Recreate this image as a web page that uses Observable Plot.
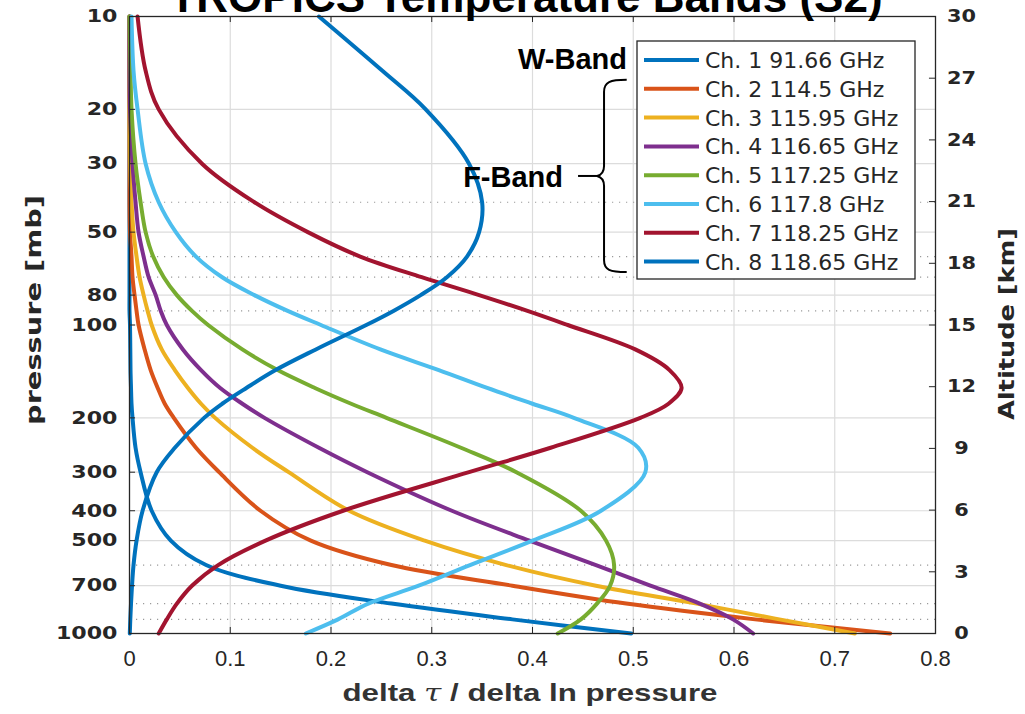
<!DOCTYPE html>
<html><head><meta charset="utf-8">
<script src="https://cdn.jsdelivr.net/npm/d3@7"></script>
<script src="https://cdn.jsdelivr.net/npm/@observablehq/plot@0.6"></script>
<style>html,body{margin:0;padding:0;background:#fff;overflow:hidden}#chart{position:relative;width:1025px;height:714px}</style>
</head><body><div id="chart"></div>
<script>
// pressure levels (mb) shared by all channels
const pressures = [10,15,20,30,40,50,60,70,80,90,100,120,140,160,180,200,250,300,400,500,600,700,800,900,1000];
const ch1 = [0,0,0,0,0,0,0,0,0,0,0.0005,0.0008,0.001,0.0015,0.002,0.003,0.006,0.011,0.022,0.041,0.076,0.15,0.26,0.38,0.498];
const ch2 = [0,0,0,0,0,0.0005,0.002,0.003,0.005,0.007,0.009,0.015,0.021,0.028,0.035,0.044,0.066,0.089,0.13,0.18,0.26,0.38,0.493,0.621,0.755];
const ch3 = [0,0,0,0.0005,0.002,0.004,0.007,0.01,0.014,0.018,0.022,0.032,0.045,0.058,0.071,0.085,0.122,0.158,0.218,0.293,0.374,0.463,0.563,0.645,0.72];
const ch4 = [0,0,0.0005,0.003,0.006,0.009,0.014,0.019,0.026,0.031,0.037,0.053,0.071,0.09,0.112,0.134,0.188,0.236,0.32,0.397,0.463,0.517,0.566,0.599,0.619];
const ch5 = [0,0.001,0.002,0.006,0.011,0.016,0.0235,0.034,0.047,0.062,0.078,0.112,0.147,0.184,0.22,0.255,0.329,0.384,0.448,0.473,0.481,0.477,0.464,0.448,0.425];
const ch6 = [0.002,0.004,0.008,0.016,0.029,0.046,0.066,0.092,0.124,0.157,0.19,0.249,0.307,0.355,0.4,0.441,0.505,0.512,0.468,0.4,0.338,0.287,0.237,0.207,0.175];
const ch7 = [0.008,0.016,0.029,0.072,0.124,0.177,0.229,0.29,0.347,0.395,0.435,0.502,0.536,0.548,0.535,0.507,0.418,0.337,0.212,0.135,0.088,0.062,0.047,0.037,0.029];
const ch8 = [0.188,0.251,0.294,0.337,0.35,0.347,0.335,0.315,0.289,0.262,0.235,0.185,0.145,0.116,0.092,0.074,0.045,0.027,0.013,0.007,0.004,0.0025,0.0015,0.0008,0.0003];

const channelNames = ["Ch. 1 91.66 GHz","Ch. 2 114.5 GHz","Ch. 3 115.95 GHz","Ch. 4 116.65 GHz","Ch. 5 117.25 GHz","Ch. 6 117.8 GHz","Ch. 7 118.25 GHz","Ch. 8 118.65 GHz"];
const channelColors = ["#0072BD","#D95319","#EDB120","#7E2F8E","#77AC30","#4DBEEE","#A2142F","#0072BD"];
const xTicks = [0,0.1,0.2,0.3,0.4,0.5,0.6,0.7,0.8];
const pressureTicks = [10,20,30,50,80,100,200,300,400,500,700,1000];
const pressureMinor = [40,60,70,90,600,800,900];
const altitudeTicks = [0,3,6,9,12,15,18,21,24,27,30];
const titleText = "TROPICS Temperature Bands (S2)";
const bandLabels = ["W-Band","F-Band"];

const series = [ch1,ch2,ch3,ch4,ch5,ch6,ch7,ch8];
const rows = series.flatMap((vals,i)=>vals.map((v,j)=>({ch:channelNames[i], p:pressures[j], v})));
const altToP = a => Math.pow(10, 3 - a/15);
const altP = altitudeTicks.map(altToP);
const ink = "#262626";

const plot = Plot.plot({
  width:1025, height:714, marginLeft:129, marginRight:90, marginTop:16, marginBottom:81,
  style:{background:"#fff", fontFamily:"DejaVu Sans", overflow:"visible"},
  x:{domain:[0,0.8]},
  y:{type:"log", domain:[10,1000], reverse:true},
  color:{domain:channelNames, range:channelColors},
  marks:[
    Plot.ruleX(xTicks.slice(1,-1), {stroke:"#dcdcdc", strokeWidth:1.2}),
    Plot.ruleY(pressureTicks.slice(1,-1), {stroke:"#dcdcdc", strokeWidth:1.2}),
    Plot.ruleY(pressureMinor, {stroke:"#9a9a9a", strokeWidth:1.2, strokeDasharray:"1.2,5.8"}),
    Plot.line(rows, {x:"v", y:"p", z:"ch", stroke:"ch", strokeWidth:4, curve:"catmull-rom"}),
    Plot.ruleX(xTicks, {y1:1000, y2:956, stroke:ink}),
    Plot.ruleX(xTicks, {y1:10, y2:10.46, stroke:ink}),
    Plot.ruleY(pressureTicks, {x1:0, x2:0.006, stroke:ink}),
    Plot.ruleY(altP, {x1:0.794, x2:0.8, stroke:ink}),
    Plot.frame({stroke:ink, strokeWidth:1.3}),
    Plot.axisY(pressureTicks, {anchor:"left", tickSize:0, tickPadding:12, tickFormat:d=>String(d), fontSize:18, fontWeight:"bold", fontFamily:"DejaVu Sans", color:ink, label:null}),
    Plot.axisY(altP, {anchor:"right", tickSize:0, tickPadding:26, textAnchor:"middle", tickFormat:d=>String(Math.round(15*(3-Math.log10(d)))), fontSize:18, fontWeight:"bold", fontFamily:"DejaVu Sans", color:ink, label:null}),
    Plot.axisX(xTicks, {anchor:"bottom", tickSize:0, tickPadding:17, tickFormat:d=>d===0?"0":d.toFixed(1), fontSize:22, fontFamily:"Liberation Sans", color:ink, label:null})
  ]
});
document.getElementById("chart").appendChild(plot);

// stretch tick labels to match the reference widths
const yGroups = plot.querySelectorAll('g[aria-label="y-axis tick label"]');
if (yGroups[0]) yGroups[0].querySelectorAll("text").forEach(t=>{t.setAttribute("textLength", t.textContent.length*15.4); t.setAttribute("lengthAdjust","spacingAndGlyphs");});
if (yGroups[1]) yGroups[1].querySelectorAll("text").forEach(t=>{t.setAttribute("textLength", t.textContent.length*14.5); t.setAttribute("lengthAdjust","spacingAndGlyphs");});

const svg = d3.select(plot);
const xs = plot.scale("x"), ys = plot.scale("y");

// title (clipped at top as in reference)
svg.append("text").attr("x",526).attr("y",12).attr("text-anchor","middle")
  .attr("font-family","Liberation Sans").attr("font-weight","bold").attr("font-size",44).attr("fill","#000").text(titleText);

// axis titles
svg.append("text").attr("transform","translate(41,310) rotate(-90)").attr("text-anchor","middle")
  .attr("font-family","DejaVu Sans").attr("font-weight","bold").attr("font-size",22).attr("fill",ink)
  .attr("textLength",230).attr("lengthAdjust","spacingAndGlyphs").text("pressure [mb]");
svg.append("text").attr("transform","translate(1014,324) rotate(-90)").attr("text-anchor","middle")
  .attr("font-family","DejaVu Sans").attr("font-weight","bold").attr("font-size",22).attr("fill",ink)
  .attr("textLength",192).attr("lengthAdjust","spacingAndGlyphs").text("Altitude [km]");
const xl = svg.append("text").attr("x",530).attr("y",701).attr("text-anchor","middle")
  .attr("font-family","Liberation Sans").attr("font-weight","bold").attr("font-size",24).attr("fill","#333")
  .attr("textLength",375).attr("lengthAdjust","spacingAndGlyphs");
xl.append("tspan").text("delta ");
xl.append("tspan").attr("font-style","italic").attr("font-weight","normal").attr("font-family","DejaVu Serif").text("τ");
xl.append("tspan").text(" / delta ln pressure");

// legend
const lg = svg.append("g").attr("text-anchor","start");
lg.append("rect").attr("x",637).attr("y",41).attr("width",278).attr("height",238).attr("fill","#fff").attr("stroke",ink).attr("stroke-width",1.3);
channelNames.forEach((n,i)=>{
  const cy = 60 + i*28.8;
  lg.append("line").attr("x1",644).attr("x2",699).attr("y1",cy).attr("y2",cy).attr("stroke",channelColors[i]).attr("stroke-width",4);
  lg.append("text").attr("x",705).attr("y",cy).attr("dy","0.36em").attr("text-anchor","start").attr("font-family","DejaVu Sans").attr("font-size",22).attr("fill",ink).text(n);
});

// band annotations
svg.append("text").attr("x",627).attr("y",69).attr("text-anchor","end").attr("font-family","Liberation Sans").attr("font-weight","bold").attr("font-size",29).attr("fill","#000").text(bandLabels[0]);
svg.append("text").attr("x",563).attr("y",187).attr("text-anchor","end").attr("font-family","Liberation Sans").attr("font-weight","bold").attr("font-size",29).attr("fill","#000").text(bandLabels[1]);

// curly brace (anchored in data space)
const xb = xs.apply(0.4715), xe = xs.apply(0.494), xstem = xs.apply(0.4457);
const y0 = ys.apply(16.1), y1 = ys.apply(67.6), ym = ys.apply(33);
const bp = `M${xe},${y0} C${xb+6},${y0} ${xb},${y0+2} ${xb},${y0+12} L${xb},${ym-10} C${xb},${ym-4} ${xb-3},${ym-1} ${xb-7},${ym} C${xb-3},${ym+1} ${xb},${ym+4} ${xb},${ym+10} L${xb},${y1-12} C${xb},${y1-2} ${xb+6},${y1} ${xe},${y1}`;
svg.append("path").attr("d",bp).attr("fill","none").attr("stroke","#000").attr("stroke-width",2);
svg.append("line").attr("x1",xstem).attr("x2",xb-7).attr("y1",ym).attr("y2",ym).attr("stroke","#000").attr("stroke-width",2);
</script>
</body></html>
